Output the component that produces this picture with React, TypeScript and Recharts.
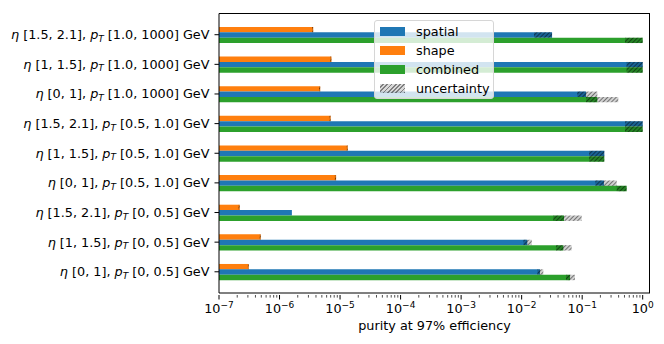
import React from 'react';
import { BarChart, Bar, XAxis, YAxis } from 'recharts';

const BLUE = '#1f77b4';
const ORANGE = '#ff7f0e';
const GREEN = '#2ca02c';
const FONT = 'DejaVu Sans, sans-serif';

// rows listed top to bottom
const etaBins = ['[1.5, 2.1]', '[1, 1.5]', '[0, 1]', '[1.5, 2.1]', '[1, 1.5]', '[0, 1]', '[1.5, 2.1]', '[1, 1.5]', '[0, 1]'];
const ptBins = ['[1.0, 1000]', '[1.0, 1000]', '[1.0, 1000]', '[0.5, 1.0]', '[0.5, 1.0]', '[0.5, 1.0]', '[0, 0.5]', '[0, 0.5]', '[0, 0.5]'];

const shape = [3.6e-6, 7.2e-6, 4.7e-6, 7.0e-6, 1.34e-5, 8.6e-6, 2.2e-7, 4.9e-7, 3.1e-7];
const shapeLo = [3.45e-6, 6.9e-6, 4.5e-6, 6.7e-6, 1.29e-5, 8.2e-6, 2.1e-7, 4.7e-7, 3.0e-7];
const shapeHi = [3.6e-6, 7.2e-6, 4.7e-6, 7.0e-6, 1.34e-5, 8.6e-6, 2.2e-7, 4.9e-7, 3.1e-7];

const spatial = [0.0318, 1.0, 0.116, 1.0, 0.232, 0.229, 1.6e-6, 0.0124, 0.0201];
const spatialLo = [0.016, 0.54, 0.083, 0.51, 0.13, 0.165, 1.6e-6, 0.0107, 0.0182];
const spatialHi = [0.0318, 1.0, 0.178, 1.0, 0.232, 0.372, 1.6e-6, 0.0147, 0.0228];

const combined = [1.0, 1.0, 0.178, 1.0, 0.232, 0.543, 0.0501, 0.0489, 0.063];
const combinedLo = [0.51, 0.54, 0.116, 0.51, 0.13, 0.372, 0.0333, 0.0369, 0.054];
const combinedHi = [1.0, 1.0, 0.395, 1.0, 0.232, 0.543, 0.098, 0.067, 0.076];

const majorTicks = [1e-7, 1e-6, 1e-5, 1e-4, 1e-3, 1e-2, 1e-1, 1];
const exponentLabels = ['\u22127', '\u22126', '\u22125', '\u22124', '\u22123', '\u22122', '\u22121', '0'];
const minorMantissas = [2, 3, 4, 5, 6, 7, 8, 9];
const xTicks = [
  ...majorTicks,
  ...majorTicks.slice(0, -1).flatMap((d) => minorMantissas.map((m) => m * d)),
];
const xDomain = [1e-7, 1.32];

const data = etaBins.map((eta, i) => ({
  key: `${eta}|${ptBins[i]}`,
  eta,
  pt: ptBins[i],
  shape: shape[i],
  spatial: spatial[i],
  combined: combined[i],
  shapeErr: [shapeLo[i], shapeHi[i]],
  spatialErr: [spatialLo[i], spatialHi[i]],
  combinedErr: [combinedLo[i], combinedHi[i]],
}));

const legendItems = [
  { name: 'spatial', color: BLUE },
  { name: 'shape', color: ORANGE },
  { name: 'combined', color: GREEN },
  { name: 'uncertainty', color: null },
];

const BAR = 5.4;
const PAD = { top: 6.4, bottom: 6.4 };
const MARGIN = { top: 13.5, right: 14, bottom: 0, left: 0 };
const Y_WIDTH = 219;
const X_HEIGHT = 51;

const XTick = (props: any) => {
  const { x, y, payload } = props;
  const v = payload.value;
  const idx = majorTicks.findIndex((t) => Math.abs(Math.log10(t) - Math.log10(v)) < 1e-6);
  const major = idx >= 0;
  return (
    <g>
      <line x1={x} x2={x} y1={y} y2={y + (major ? 4.5 : 2.6)} stroke="#000" strokeWidth={major ? 1 : 0.7} />
      {major && (
        <text x={x} y={y + 18} textAnchor="middle" fontSize={12.8} fill="#000" fontFamily={FONT}>
          10<tspan dy={-5} fontSize={9}>{exponentLabels[idx]}</tspan>
        </text>
      )}
    </g>
  );
};

const YTick = (props: any) => {
  const { x, y, payload } = props;
  const [eta, pt] = String(payload.value).split('|');
  return (
    <text x={x} y={y} dy={4.5} textAnchor="end" fontSize={12.8} fill="#000" fontFamily={FONT}>
      <tspan fontStyle="italic">{'\u03b7'}</tspan>
      {` ${eta}, `}
      <tspan fontStyle="italic">p</tspan>
      <tspan fontStyle="italic" fontSize={9} dy={2.5}>T</tspan>
      <tspan dy={-2.5}>{` ${pt} GeV`}</tspan>
    </text>
  );
};

const XLabel = (props: any) => {
  const { viewBox } = props;
  return (
    <text
      x={viewBox.x + viewBox.width / 2}
      y={viewBox.y + 37}
      textAnchor="middle"
      fontSize={12.8}
      fill="#000"
      fontFamily={FONT}
    >
      purity at 97% efficiency
    </text>
  );
};

const hatchCss =
  'repeating-linear-gradient(-45deg, rgba(0,0,0,0.5) 0px, rgba(0,0,0,0.5) 1.2px, rgba(0,0,0,0.15) 1.2px, rgba(0,0,0,0.15) 3px)';

export default function App() {
  return (
    <div style={{ position: 'absolute', left: 0, top: 0, width: 664, height: 344, background: '#fff' }}>
      <BarChart
        width={664}
        height={344}
        data={data}
        layout="vertical"
        barGap={0}
        margin={MARGIN}
        style={{ fontFamily: FONT }}
      >
        <defs>
          <pattern id="hatch" patternUnits="userSpaceOnUse" width="3" height="3" patternTransform="rotate(45)">
            <rect width="3" height="3" fill="rgba(0,0,0,0.18)" />
            <line x1="0" y1="0" x2="0" y2="3" stroke="rgba(0,0,0,0.6)" strokeWidth="1.5" />
          </pattern>
        </defs>
        <XAxis
          xAxisId="x"
          type="number"
          scale="log"
          domain={xDomain}
          allowDataOverflow
          ticks={xTicks}
          interval={0}
          tickSize={0}
          tickLine={false}
          tick={<XTick />}
          height={X_HEIGHT}
          axisLine={{ stroke: '#000' }}
          label={<XLabel />}
        />
        <YAxis
          yAxisId="m"
          type="category"
          dataKey="key"
          width={Y_WIDTH}
          interval={0}
          tickSize={4.5}
          tickMargin={5}
          tickLine={{ stroke: '#000' }}
          axisLine={{ stroke: '#000' }}
          tick={<YTick />}
          padding={PAD}
        />
        <YAxis yAxisId="h" type="category" dataKey="key" orientation="right" width={0} hide padding={PAD} />
        <Bar xAxisId="x" yAxisId="m" dataKey="shape" fill={ORANGE} barSize={BAR} isAnimationActive={false} />
        <Bar xAxisId="x" yAxisId="m" dataKey="spatial" fill={BLUE} barSize={BAR} isAnimationActive={false} />
        <Bar xAxisId="x" yAxisId="m" dataKey="combined" fill={GREEN} barSize={BAR} isAnimationActive={false} />
        <Bar xAxisId="x" yAxisId="h" dataKey="shapeErr" fill="url(#hatch)" barSize={BAR} isAnimationActive={false} />
        <Bar xAxisId="x" yAxisId="h" dataKey="spatialErr" fill="url(#hatch)" barSize={BAR} isAnimationActive={false} />
        <Bar xAxisId="x" yAxisId="h" dataKey="combinedErr" fill="url(#hatch)" barSize={BAR} isAnimationActive={false} />
      </BarChart>
      {/* top and right spines */}
      <div
        style={{
          position: 'absolute',
          left: MARGIN.left + Y_WIDTH,
          top: MARGIN.top - 0.5,
          width: 664 - MARGIN.right - MARGIN.left - Y_WIDTH,
          height: 344 - MARGIN.top - X_HEIGHT,
          boxSizing: 'border-box',
          borderTop: '1px solid #000',
          borderRight: '1px solid #000',
          pointerEvents: 'none',
        }}
      />
      <div
        style={{
          position: 'absolute',
          left: 374,
          top: 20,
          width: 120,
          height: 79,
          boxSizing: 'border-box',
          border: '1px solid #d6d6d6',
          borderRadius: 3,
          background: 'rgba(255,255,255,0.8)',
          fontFamily: FONT,
          fontSize: 12.8,
          color: '#000',
        }}
      >
        {legendItems.map((it, i) => (
          <div
            key={it.name}
            style={{ position: 'absolute', left: 0, top: 1 + i * 19, height: 19, display: 'flex', alignItems: 'center' }}
          >
            <div
              style={{
                marginLeft: 5,
                width: 25,
                height: 9,
                background: it.color ?? hatchCss,
              }}
            />
            <span style={{ marginLeft: 11, lineHeight: '19px' }}>{it.name}</span>
          </div>
        ))}
      </div>
    </div>
  );
}
